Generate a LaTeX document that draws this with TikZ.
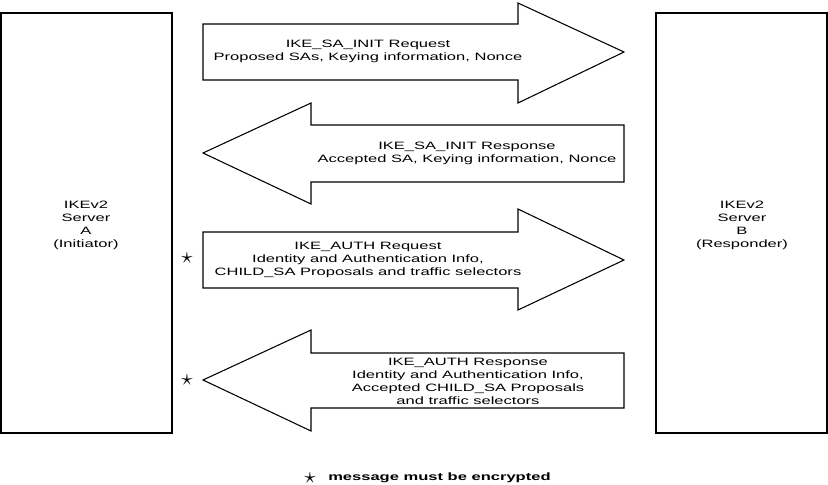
\documentclass[tikz,border=0pt]{standalone}
\usepackage{fontspec}
\setmainfont{Liberation Sans}[FakeStretch=1.55]
\begin{document}
\begin{tikzpicture}[x=0.75pt,y=-0.75pt,
  box/.style={draw,line width=0.8pt},
  arr/.style={draw,line width=0.8pt,fill=white},
  lbl/.style={align=center,font=\fontsize{8}{9.75}\selectfont,inner sep=0pt},
  star/.style={inner sep=0pt,font=\LARGE}]
\useasboundingbox (0,0) rectangle (828,485);
\draw[box] (1,13) rectangle (172,433);
\draw[box] (656,13) rectangle (827,433);
\node[lbl] (A) at (86,225) {IKEv2\\Server\\A\\(Initiator)};
\node[lbl] (B) at (742,225) {IKEv2\\Server\\B\\(Responder)};
\draw[arr] (203,24) -- (518,24) -- (518,3) -- (624,52) -- (518,103) -- (518,80) -- (203,80) -- cycle;
\node[lbl] (m1) at (368,51) {IKE\_SA\_INIT Request\\Proposed SAs, Keying information, Nonce};
\draw[arr] (624,125) -- (311,125) -- (311,103) -- (203,153) -- (311,204) -- (311,182) -- (624,182) -- cycle;
\node[lbl] (m2) at (467,153) {IKE\_SA\_INIT Response\\Accepted SA, Keying information, Nonce};
\draw[arr] (203,232) -- (518,232) -- (518,209) -- (624,260) -- (518,310) -- (518,288) -- (203,288) -- cycle;
\node[lbl] (m3) at (368,260) {IKE\_AUTH Request\\Identity and Authentication Info,\\CHILD\_SA Proposals and traffic selectors};
\draw[arr] (624,353) -- (311,353) -- (311,330) -- (203,380) -- (311,431) -- (311,408) -- (624,408) -- cycle;
\node[lbl] (m4) at (468,381) {IKE\_AUTH Response\\Identity and Authentication Info,\\Accepted CHILD\_SA Proposals\\and traffic selectors};
\node[star] (s1) at (187,258) {$\star$};
\node[star] (s2) at (187,380) {$\star$};
\node[star] (s3) at (310,478) {$\star$};
\node[lbl,anchor=west,font=\fontsize{8}{9.75}\selectfont\bfseries] (leg) at (328,478) {message must be encrypted};
\end{tikzpicture}
\end{document}
